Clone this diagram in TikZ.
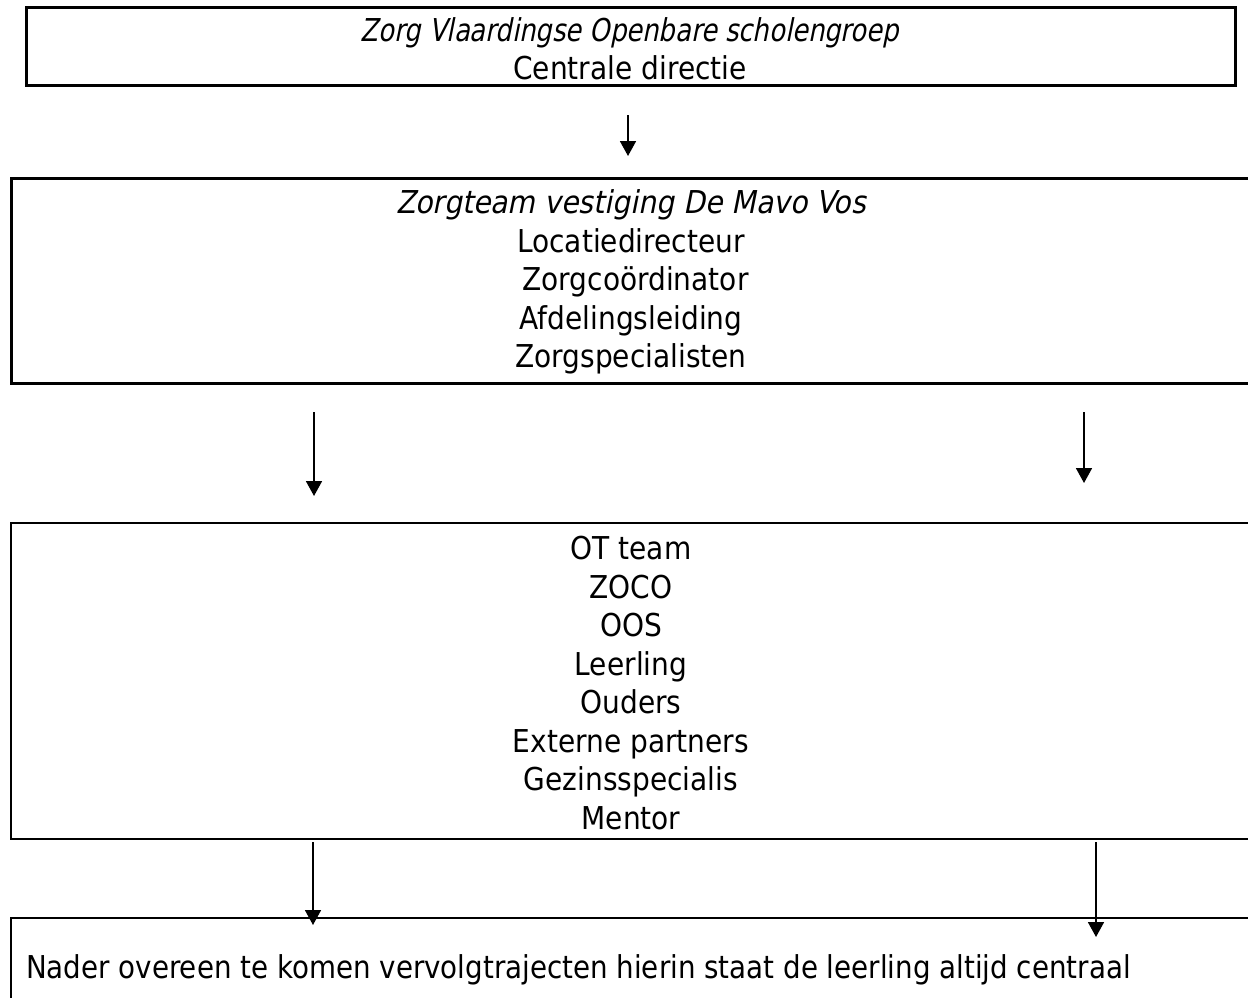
\documentclass[tikz,border=0pt]{standalone}
\usepackage{fontspec}
\setmainfont{DejaVu Sans}[FakeStretch=0.89]
\newfontfamily\slantA{DejaVu Sans}[FakeStretch=0.82, FakeSlant=0.2]
\newfontfamily\slantB{DejaVu Sans}[FakeStretch=0.9, FakeSlant=0.2]
\newfontfamily\longline{DejaVu Sans}[FakeStretch=0.88]
\usetikzlibrary{arrows.meta}
\tikzset{
  box/.style={draw, line width=2.6pt, inner sep=0pt},
  flow/.style={line width=1.8pt, -{Triangle[width=16pt,length=15pt]}},
  txt/.style={inner sep=0pt, align=center, font=\fontsize{31.5}{38.5}\selectfont},
  ltxt/.style={inner sep=0pt, font=\longline\fontsize{31.5}{38.5}\selectfont}
}
\begin{document}
\begin{tikzpicture}[x=1pt,y=-1pt]
\useasboundingbox (0,0) rectangle (1248,998);
\node[box, line width=3pt, minimum width=1209pt, minimum height=78pt] (b1) at (630.5,47) {};
\node[txt] (t1) at (630,49)
  {{\slantA Zorg Vlaardingse Openbare scholengroep}\\Centrale directie};
\node[box, line width=3pt, minimum width=1240pt, minimum height=205pt] (b2) at (631,280.5) {};
\node[txt] (t2) at (631,282)
  {{\slantB Zorgteam vestiging De Mavo Vos}\\Locatiedirecteur\\\ Zorgcoördinator\\Afdelingsleiding\\Zorgspecialisten};
\node[box, minimum width=1240pt, minimum height=316pt] (b3) at (631,681) {};
\node[txt] (t3) at (631,683)
  {OT team\\ZOCO\\OOS\\Leerling\\Ouders\\Externe partners\\Gezinsspecialis\\Mentor};
\node[box, minimum width=1240pt, minimum height=100pt] (b4) at (631,968) {};
\node[ltxt, anchor=west] (t4) at (26,970)
  {Nader overeen te komen vervolgtrajecten hierin staat de leerling altijd centraal};
\coordinate (s1) at (628,115);
\coordinate (e1) at (628,156);
\coordinate (s2) at (314,412);
\coordinate (e2) at (314,496);
\coordinate (s3) at (1084,412);
\coordinate (e3) at (1084,483);
\coordinate (s4) at (313,842);
\coordinate (e4) at (313,925);
\coordinate (s5) at (1096,842);
\coordinate (e5) at (1096,937);
\draw[flow] (s1) -- (e1);
\draw[flow] (s2) -- (e2);
\draw[flow] (s3) -- (e3);
\draw[flow] (s4) -- (e4);
\draw[flow] (s5) -- (e5);
\end{tikzpicture}
\end{document}
